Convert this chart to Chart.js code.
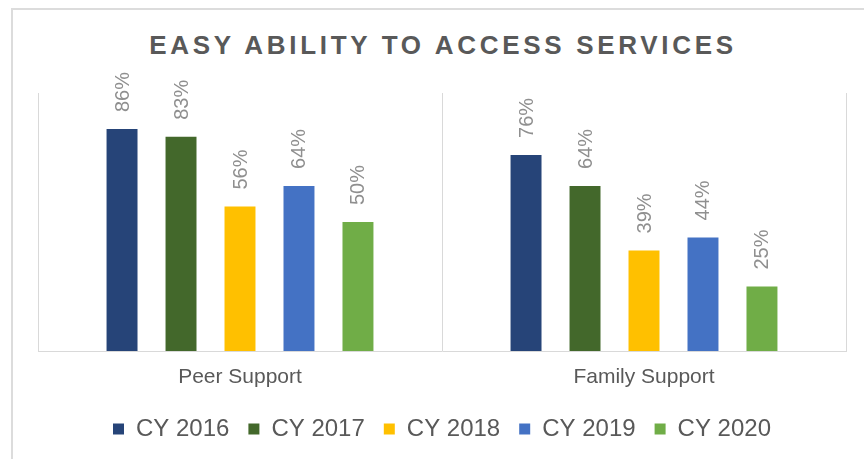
<!DOCTYPE html>
<html>
<head>
<meta charset="utf-8">
<script src="https://cdn.jsdelivr.net/npm/chart.js@4.4.1/dist/chart.umd.min.js"></script>
<style>
  body { margin: 0; background: #fff; }
  #wrap { position: relative; width: 864px; height: 459px; overflow: hidden; }
  #frame { position: absolute; left: 11px; top: 8px; width: 900px; height: 500px;
           border-top: 2px solid #dcdcdc; border-left: 2px solid #dcdcdc; }
  #title { position: absolute; left: 0; top: 32px; width: 864px; box-sizing: border-box;
           padding-left: 22px; text-align: center; font: bold 26px/26px "Liberation Sans", Arial, sans-serif;
           letter-spacing: 3.7px; color: #595959; }
  canvas { position: absolute; left: 0; top: 0; }
</style>
</head>
<body>
<div id="wrap">
  <div id="frame"></div>
  <div id="title">EASY ABILITY TO ACCESS SERVICES</div>
  <canvas id="chart" width="864" height="459"></canvas>
</div>
<script>
const categories = ['Peer Support', 'Family Support'];
const years = ['CY 2016', 'CY 2017', 'CY 2018', 'CY 2019', 'CY 2020'];
const cy2016 = [86, 76];
const cy2017 = [83, 64];
const cy2018 = [56, 39];
const cy2019 = [64, 44];
const cy2020 = [50, 25];
const colors = ['#264478', '#43682b', '#ffc000', '#4472c4', '#70ad47'];

const series = [cy2016, cy2017, cy2018, cy2019, cy2020];

// rotated value labels above each bar
const barLabels = {
  id: 'barLabels',
  afterDatasetsDraw(chart) {
    const ctx = chart.ctx;
    ctx.save();
    ctx.font = '20px "Liberation Sans", Arial, sans-serif';
    ctx.fillStyle = '#8f8f8f';
    ctx.textAlign = 'left';
    ctx.textBaseline = 'middle';
    chart.data.datasets.forEach((ds, i) => {
      chart.getDatasetMeta(i).data.forEach((bar, j) => {
        ctx.save();
        ctx.translate(bar.x + 1, bar.y - 17);
        ctx.rotate(-Math.PI / 2);
        ctx.fillText(ds.data[j] + '%', 0, 0);
        ctx.restore();
      });
    });
    ctx.restore();
  }
};

new Chart(document.getElementById('chart'), {
  type: 'bar',
  data: {
    labels: categories,
    datasets: years.map((y, i) => ({
      label: y,
      data: series[i],
      backgroundColor: colors[i],
      categoryPercentage: 0.73,
      barPercentage: 0.525
    }))
  },
  options: {
    responsive: false,
    animation: false,
    layout: { padding: { left: 38, right: 18, top: 93, bottom: 8 } },
    plugins: {
      title: { display: false },
      tooltip: { enabled: false },
      legend: {
        position: 'bottom',
        labels: {
          boxWidth: 11,
          boxHeight: 11,
          padding: 19,
          color: '#595959',
          font: { family: '"Liberation Sans", Arial, sans-serif', size: 24 }
        }
      }
    },
    scales: {
      x: {
        grid: { color: '#d9d9d9', drawTicks: false, offset: true },
        border: { color: '#d9d9d9' },
        ticks: {
          color: '#595959',
          padding: 14,
          font: { family: '"Liberation Sans", Arial, sans-serif', size: 21 }
        },
        afterFit(scale) { scale.height = 47; }
      },
      y: { display: false, min: 0, max: 100 }
    }
  },
  plugins: [barLabels]
});
</script>
</body>
</html>
